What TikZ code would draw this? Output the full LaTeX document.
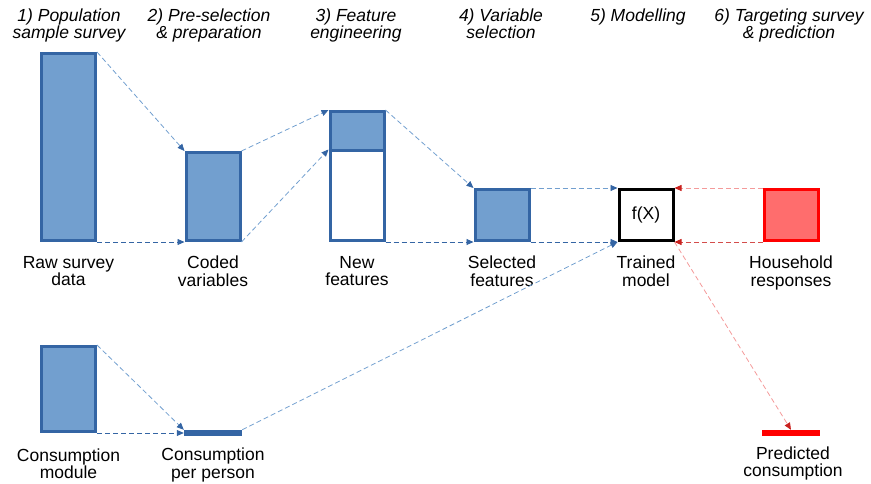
\documentclass[tikz,border=0pt]{standalone}
\usepackage{fontspec}
\setmainfont{Liberation Sans}
\usetikzlibrary{positioning, arrows.meta}

\definecolor{boxfill}{HTML}{729FCF}
\definecolor{boxline}{HTML}{3465A4}
\definecolor{redfill}{HTML}{FF6D6D}
\definecolor{redline}{HTML}{FF0000}
\definecolor{redtip}{HTML}{C9211E}
\definecolor{redlight}{HTML}{F49A9A}

\begin{document}
\begin{tikzpicture}[
        x=1pt, y=-1pt,
        node distance=14pt,
        datablock/.style={rectangle, draw=boxline, fill=boxfill, line width=3pt, minimum width=54pt, inner sep=0pt},
        emptyblock/.style={datablock, fill=white},
        modelblock/.style={rectangle, draw=black, fill=white, line width=3pt, minimum width=54pt, minimum height=51pt, inner sep=0pt, font=\fontsize{17.5}{18}\selectfont},
        redblock/.style={datablock, draw=redline, fill=redfill},
        bar/.style={rectangle, minimum width=58pt, minimum height=6pt, inner sep=0pt},
        label/.style={align=center, inner sep=0pt, font=\fontsize{17.5}{17.5}\selectfont},
        header/.style={align=center, inner sep=0pt, anchor=north, font=\itshape\fontsize{17.5}{17}\selectfont},
        lite/.style={draw=boxfill, dash pattern=on 5pt off 3pt, line width=0.8pt, -{Triangle[length=7pt,width=6pt,color=boxline]}},
        dark/.style={lite, draw=boxline},
        redlite/.style={draw=redlight, dash pattern=on 5pt off 3pt, line width=0.8pt, -{Triangle[length=7pt,width=6pt,color=redtip]}},
        reddark/.style={redlite, draw=redtip!80}
    ]
        \useasboundingbox (0,0) rectangle (871,484);

        % Headers
        \node [header] (h1) at (69,8.5) {1) Population\\sample survey};
        \node [header] (h2) at (209,8.5) {2) Pre-selection\\\& preparation};
        \node [header] (h3) at (356,8.5) {3) Feature\\engineering};
        \node [header] (h4) at (501,8.5) {4) Variable\\selection};
        \node [header] (h5) at (638,8.5) {5) Modelling};
        \node [header] (h6) at (789,8.5) {6) Targeting survey\\\& prediction};

        % Nodes
        \node [datablock, minimum height=187pt] (raw) at (68.5,147) {};
        \node [datablock, minimum height=88pt] (coded) at (213,196.5) {};
        \node [emptyblock, minimum height=89.5pt] (newlow) at (357,195.75) {};
        \node [datablock, minimum height=39.5pt] (newtop) at (357,131.25) {};
        \node [datablock, minimum height=51pt] (sel) at (502,215) {};
        \node [modelblock] (model) at (646,215) {f(X)};
        \node [redblock, minimum height=51pt] (house) at (791,215) {};
        \node [datablock, minimum height=85pt] (cons) at (68.5,389) {};
        \node [bar, fill=boxline] (cpp) at (213,433) {};
        \node [bar, fill=redline] (pred) at (791,433) {};

        % Labels
        \node [label, below=of raw] (rawlbl) {Raw survey\\data};
        \node [label, below=of coded] (codedlbl) {Coded\\variables};
        \node [label, below=of newlow] (newlbl) {New\\features};
        \node [label, below=of sel] (sellbl) {Selected\\features};
        \node [label, below=of model] (modellbl) {Trained\\model};
        \node [label, below=of house] (houselbl) {Household\\responses};
        \node [label, below=15.5pt of cons] (conslbl) {Consumption\\module};
        \node [label, below=11.5pt of cpp] (cpplbl) {Consumption\\per person};
        \node [label, below=10pt of pred, xshift=2pt] (predlbl) {Predicted\\consumption};

        % Edges
        \path [lite] (raw.north east) -- (coded.north west);
        \path [dark] (raw.south east) -- (coded.south west);
        \path [lite] (coded.north east) -- (newtop.north west);
        \path [lite] (coded.south east) -- (newlow.north west);
        \path [lite] (newtop.north east) -- (sel.north west);
        \path [dark] (newlow.south east) -- (sel.south west);
        \path [lite] (sel.north east) -- (model.north west);
        \path [dark] (sel.south east) -- (model.south west);
        \path [redlite] (house.north west) -- (model.north east);
        \path [reddark] (house.south west) -- (model.south east);
        \path [redlite] (model.south east) -- (pred.north);
        \path [lite] (cons.north east) -- (cpp.north west);
        \path [dark] (cons.south east) -- (cpp.west);
        \path [lite] (cpp.north east) -- (model.south west);
    \end{tikzpicture}
\end{document}
